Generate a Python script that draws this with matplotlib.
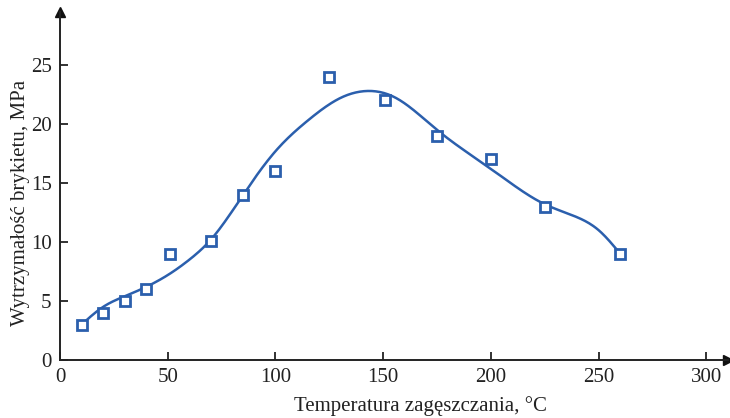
import matplotlib
matplotlib.use("Agg")
import matplotlib.pyplot as plt
import numpy as np

# measured points
temp = [10, 20, 30, 40, 51, 70, 85, 100, 125, 151, 175, 200, 225, 260]
strength = [3, 4, 5, 6, 9, 10.1, 14, 16, 24, 22, 19, 17, 13, 9]

# fitted curve
curve_x = [10, 20, 30, 40, 50, 60, 70, 85, 100, 115, 130, 142, 155, 175, 200, 225, 240, 250, 260]
curve_y = [3.0, 4.5, 5.4, 6.2, 7.2, 8.5, 10.2, 14.0, 17.7, 20.3, 22.2, 22.8, 22.3, 19.5, 16.2, 13.2, 12.1, 11.0, 9.0]

xticks = [0, 50, 100, 150, 200, 250, 300]
yticks = [0, 5, 10, 15, 20, 25]


def natural_spline(x, y, xs):
    x = np.asarray(x, float)
    y = np.asarray(y, float)
    n = len(x)
    h = np.diff(x)
    A = np.zeros((n, n))
    b = np.zeros(n)
    A[0, 0] = A[-1, -1] = 1
    for i in range(1, n - 1):
        A[i, i - 1] = h[i - 1]
        A[i, i] = 2 * (h[i - 1] + h[i])
        A[i, i + 1] = h[i]
        b[i] = 3 * ((y[i + 1] - y[i]) / h[i] - (y[i] - y[i - 1]) / h[i - 1])
    c = np.linalg.solve(A, b)
    idx = np.clip(np.searchsorted(x, xs) - 1, 0, n - 2)
    dx = xs - x[idx]
    hi = h[idx]
    bb = (y[idx + 1] - y[idx]) / hi - hi * (2 * c[idx] + c[idx + 1]) / 3
    d = (c[idx + 1] - c[idx]) / (3 * hi)
    return y[idx] + bb * dx + c[idx] * dx ** 2 + d * dx ** 3


plt.rcParams['font.family'] = ['Liberation Serif', 'DejaVu Serif']
blue = '#2b5fad'

fig = plt.figure(figsize=(7.3, 4.18), dpi=100)
ax = fig.add_axes([60 / 730, 58 / 418, 668 / 730, 348 / 418])

xs = np.linspace(curve_x[0], curve_x[-1], 400)
ax.plot(xs, natural_spline(curve_x, curve_y, xs), color=blue, lw=1.8, zorder=2)
ax.plot(temp, strength, 's', ms=7, mfc='white', mec=blue, mew=2, ls='none', zorder=3)

ax.set_xlim(0, 310)
ax.set_ylim(0, 29.5)
ax.set_xticks(xticks)
ax.set_yticks(yticks)
ax.tick_params(direction='in', length=6, width=1.3, labelsize=15, pad=6, colors='#222222')

for s in ['top', 'right']:
    ax.spines[s].set_visible(False)
for s in ['left', 'bottom']:
    ax.spines[s].set_linewidth(1.4)
    ax.spines[s].set_color('#222222')

# arrow heads on axes
ax.plot(1, 0, '>', color='#111111', ms=7, transform=ax.transAxes, clip_on=False)
ax.plot(0, 1, '^', color='#111111', ms=7, transform=ax.transAxes, clip_on=False)

ax.set_xlabel('Temperatura zagęszczania, °C', fontsize=15, color='#222222')
ax.set_ylabel('Wytrzymałość brykietu, MPa', fontsize=15, color='#222222')
ax.xaxis.set_label_coords(0.539, -0.105)
ax.yaxis.set_label_coords(-0.045, 0.45)

fig.savefig('out.png', dpi=100)
